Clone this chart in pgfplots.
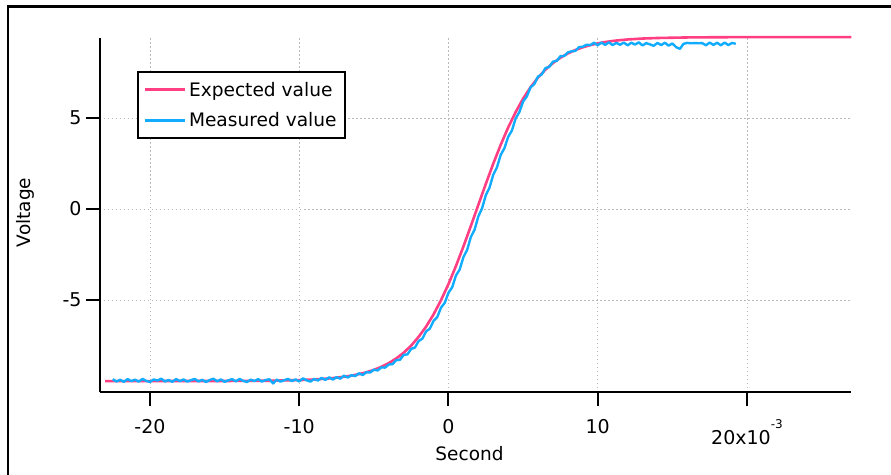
\documentclass[border=0pt]{standalone}
\usepackage{pgfplots}
\pgfplotsset{compat=1.18}
\usepackage{pgfplotstable}
\usepackage{fontspec}
\setmainfont{DejaVu Sans}

\definecolor{expcol}{RGB}{255,62,132}
\definecolor{meascol}{RGB}{18,172,255}

% Expected step response (x in units of 1e-3 s)
\pgfplotstableread{
x y
-23.0 -9.450
-20.0 -9.449
-15.0 -9.445
-12.0 -9.430
-10.0 -9.396
-9.0 -9.361
-8.0 -9.305
-7.5 -9.265
-7.0 -9.215
-6.5 -9.150
-6.0 -9.068
-5.5 -8.965
-5.0 -8.835
-4.5 -8.670
-4.0 -8.463
-3.5 -8.207
-3.0 -7.890
-2.5 -7.500
-2.0 -7.020
-1.5 -6.458
-1.0 -5.785
-0.5 -5.005
0.0 -4.117
0.5 -3.129
1.0 -2.056
1.5 -0.926
2.0 0.232
2.5 1.383
3.0 2.494
3.5 3.534
4.0 4.485
4.5 5.331
5.0 6.067
5.5 6.697
6.0 7.227
6.5 7.665
7.0 8.025
7.5 8.316
8.0 8.552
8.5 8.740
9.0 8.890
9.5 9.009
10.0 9.103
10.5 9.178
11.0 9.236
11.5 9.282
12.0 9.319
13.0 9.370
14.0 9.400
16.0 9.430
18.0 9.442
20.0 9.447
27.0 9.450
}\expected

% Measured response
\pgfplotstableread{
x y
-22.50 -9.35
-22.25 -9.47
-22.00 -9.38
-21.75 -9.49
-21.50 -9.34
-21.25 -9.45
-21.00 -9.37
-20.75 -9.48
-20.50 -9.33
-20.25 -9.44
-20.00 -9.50
-19.75 -9.36
-19.50 -9.42
-19.25 -9.32
-19.00 -9.47
-18.75 -9.39
-18.50 -9.49
-18.25 -9.34
-18.00 -9.45
-17.75 -9.36
-17.50 -9.48
-17.25 -9.40
-17.00 -9.33
-16.75 -9.47
-16.50 -9.38
-16.25 -9.50
-16.00 -9.39
-15.75 -9.32
-15.50 -9.46
-15.25 -9.36
-15.00 -9.49
-14.75 -9.41
-14.50 -9.34
-14.25 -9.47
-14.00 -9.33
-13.75 -9.44
-13.50 -9.50
-13.25 -9.37
-13.00 -9.45
-12.75 -9.34
-12.50 -9.48
-12.25 -9.39
-12.00 -9.35
-11.75 -9.58
-11.50 -9.37
-11.25 -9.48
-11.00 -9.40
-10.75 -9.33
-10.50 -9.45
-10.25 -9.36
-10.00 -9.47
-9.75 -9.30
-9.50 -9.41
-9.25 -9.48
-9.00 -9.33
-8.75 -9.42
-8.50 -9.27
-8.25 -9.39
-8.00 -9.24
-7.75 -9.37
-7.50 -9.23
-7.25 -9.32
-7.00 -9.15
-6.75 -9.26
-6.50 -9.12
-6.25 -9.18
-6.00 -9.02
-5.75 -9.12
-5.50 -8.96
-5.25 -8.98
-5.00 -8.82
-4.75 -8.87
-4.50 -8.70
-4.25 -8.71
-4.00 -8.54
-3.75 -8.52
-3.50 -8.30
-3.25 -8.28
-3.00 -8.01
-2.75 -7.98
-2.50 -7.68
-2.25 -7.61
-2.00 -7.25
-1.75 -7.12
-1.50 -6.72
-1.25 -6.57
-1.00 -6.14
-0.75 -5.93
-0.50 -5.41
-0.25 -5.15
0.00 -4.60
0.25 -4.29
0.50 -3.65
0.75 -3.32
1.00 -2.64
1.25 -2.24
1.50 -1.53
1.75 -1.13
2.00 -0.40
2.25 0.04
2.50 0.76
2.75 1.18
3.00 1.89
3.25 2.30
3.50 2.98
3.75 3.35
4.00 3.97
4.25 4.32
4.50 4.98
4.75 5.33
5.00 5.91
5.25 6.19
5.50 6.69
5.75 6.87
6.00 7.28
6.25 7.40
6.50 7.75
6.75 7.81
7.00 8.10
7.25 8.14
7.50 8.40
7.75 8.41
8.00 8.61
8.25 8.67
8.50 8.69
8.75 8.90
9.00 8.92
9.25 9.03
9.50 9.01
9.75 9.14
10.00 9.00
10.25 9.15
10.50 9.02
10.75 9.16
11.00 9.01
11.25 9.13
11.50 9.03
11.75 9.15
12.00 9.00
12.25 9.14
12.50 9.04
12.75 9.16
13.00 8.99
13.25 9.12
13.50 9.05
13.75 8.97
14.00 9.13
14.25 9.01
14.50 9.14
14.75 8.98
15.00 9.10
15.25 8.90
15.50 8.80
15.75 9.08
16.00 9.13
16.25 9.11
16.50 9.12
16.75 9.11
17.00 9.12
17.25 9.00
17.50 9.15
17.75 9.02
18.00 9.14
18.25 9.00
18.50 9.15
18.75 9.01
19.00 9.13
19.25 9.08
}\measured

\begin{document}
\begin{tikzpicture}
\begin{axis}[
  at={(0bp,0bp)}, anchor=south west,
  scale only axis,
  width=751bp, height=354bp,
  xmin=-23.35, xmax=26.97,
  ymin=-10.05, ymax=9.4,
  clip=false,
  axis x line*=bottom, axis y line*=left,
  axis line style={line width=2bp, black},
  tick align=outside,
  major tick length=14bp,
  tick style={line width=2bp, black},
  xtick={-20,-10,0,10,20},
  xticklabels={-20,-10,0,10,{20x10\raisebox{16bp}{\fontsize{12bp}{12bp}\selectfont -3}}},
  ytick={-5,0,5},
  yticklabels={-5,0,5},
  /pgf/number format/assume math mode=true,
  ticklabel style={font=\fontsize{19bp}{21bp}\selectfont},
  xticklabel style={yshift=-10bp},
  yticklabel style={xshift=-1bp},
  grid=major,
  major grid style={gray!55, line width=0.8bp, dash pattern=on 1.5bp off 2.5bp},
  xlabel={Second},
  ylabel={Voltage},
  label style={font=\fontsize{18.5bp}{20bp}\selectfont},
  xlabel style={at={(axis description cs:0.492,-0.1949)}, anchor=base},
  ylabel style={at={(axis description cs:-0.0932,0.507)}, anchor=base, rotate=0},
  legend style={
    at={(axis description cs:0.04927,0.9068)}, anchor=north west,
    draw=black, line width=2bp, fill=white,
    inner xsep=5bp, inner ysep=7bp,
    row sep=9bp,
    nodes={inner sep=3bp},
    font=\fontsize{18.6bp}{21bp}\selectfont},
  legend cell align=left,
  legend image code/.code={\draw[#1, line width=3bp] (0bp,0bp) -- (40bp,0bp);},
]
\addplot[expcol, line width=2.6bp] table[x=x, y=y] {\expected};
\addlegendentry{Expected value}
\addplot[meascol, line width=2.4bp, line join=round] table[x=x, y=y] {\measured};
\addlegendentry{Measured value}
\end{axis}
% outer frame (left and top edges inside the page)
\draw[line width=2.5bp, black] (-92bp,-90bp) -- (-92bp,385.5bp) -- (800bp,385.5bp);
\pgfresetboundingbox
\useasboundingbox (-100bp,-83bp) rectangle (791bp,392bp);
\end{tikzpicture}
\end{document}
